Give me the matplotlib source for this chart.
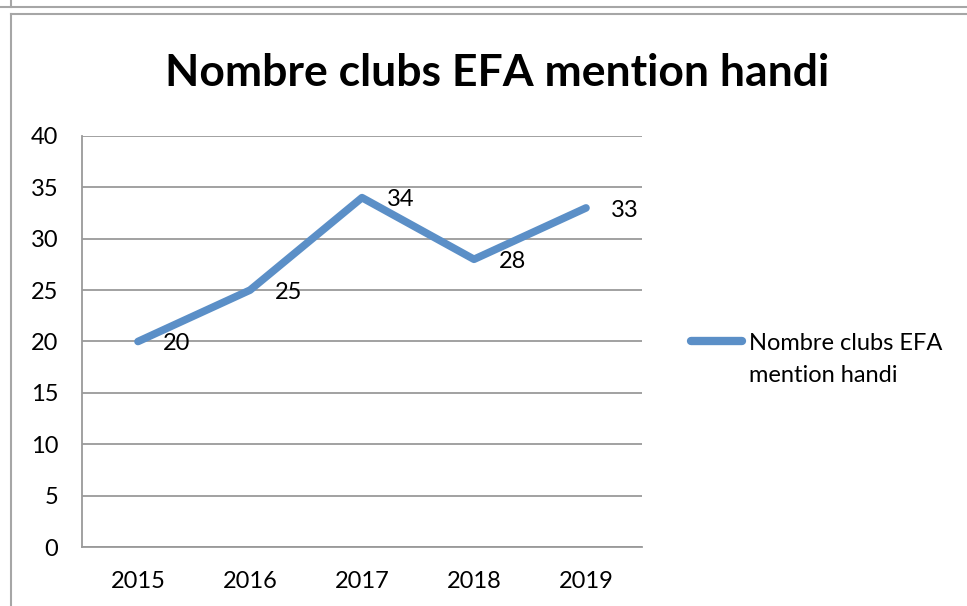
import numpy as np
import matplotlib
matplotlib.use("Agg")
import matplotlib.pyplot as plt
from matplotlib.lines import Line2D

# Data
years = ['2015', '2016', '2017', '2018', '2019']
clubs = [20, 25, 34, 28, 33]
series_lines = ["Nombre clubs EFA", "mention handi"]
title = "Nombre clubs EFA mention handi"

plt.rcParams['font.family'] = ['Lato', 'DejaVu Sans']

W, H = 967, 606
fig = plt.figure(figsize=(W / 100, H / 100), dpi=100)

# Plot area (pixels converted to figure fractions)
left, right, top, bottom = 82, 642, 136, 547
ax = fig.add_axes([left / W, 1 - bottom / H, (right - left) / W, (bottom - top) / H])

x = np.arange(len(years))
line_color = '#5B8FC7'
ax.plot(x, clubs, color=line_color, linewidth=5.5, solid_capstyle='round',
        solid_joinstyle='round', zorder=3)

for xi, v in zip(x, clubs):
    ax.annotate(str(v), (xi, v), xytext=(18, -1.5), textcoords='offset points',
                ha='left', va='center', fontsize=17, color='black')

ax.set_xlim(-0.5, len(years) - 0.5)
ax.set_ylim(0, 40)
ax.set_yticks(np.arange(0, 41, 5))
ax.set_xticks(x)
ax.set_xticklabels(years)
ax.tick_params(axis='both', length=0, labelsize=17)
ax.tick_params(axis='y', pad=17)
ax.tick_params(axis='x', pad=17)

ax.grid(axis='y', color='#9A9A9A', linewidth=1.3)
ax.set_axisbelow(True)
for s in ['top', 'right']:
    ax.spines[s].set_visible(False)
for s in ['left', 'bottom']:
    ax.spines[s].set_color('#9A9A9A')
    ax.spines[s].set_linewidth(1.3)

# Title
fig.text(497 / W, 1 - 73 / H, title, ha='center', va='center',
         fontsize=32, fontweight='bold')

# Legend drawn by hand: line sample next to the first text line
fig.add_artist(Line2D([691 / W, 742 / W], [1 - 341 / H, 1 - 341 / H],
                      color=line_color, linewidth=6, solid_capstyle='round'))
for i, txt in enumerate(series_lines):
    fig.text(749 / W, 1 - (343 + 33 * i) / H, txt, ha='left', va='center',
             fontsize=17)

# Chart borders
border = '#A6A6A6'
fig.add_artist(Line2D([0, 1], [1 - 7 / H, 1 - 7 / H], color=border, linewidth=1.5))
fig.add_artist(Line2D([11 / W, 11 / W], [1 - 7 / H, 1], color=border, linewidth=1.5))
fig.add_artist(Line2D([11 / W, 1], [1 - 14 / H, 1 - 14 / H], color=border, linewidth=1.5))
fig.add_artist(Line2D([11 / W, 11 / W], [0, 1 - 14 / H], color=border, linewidth=1.5))

fig.savefig("out.png", dpi=100)
